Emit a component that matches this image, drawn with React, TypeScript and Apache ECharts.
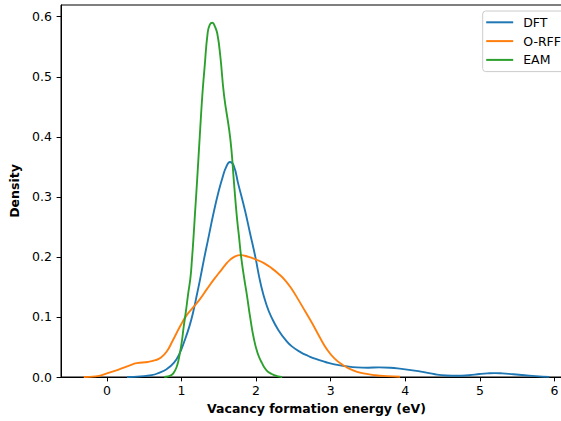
import React, { useEffect, useRef } from "react";
import * as echarts from "echarts";

const seriesNames = ["DFT", "O-RFF", "EAM"];
const seriesColors = ["#1f77b4", "#ff7f0e", "#2ca02c"];

const dftX = [0.27, 0.45, 0.6, 0.7, 0.8, 0.9, 0.97, 1.04, 1.11, 1.16, 1.21, 1.25, 1.3, 1.35, 1.43, 1.5, 1.55, 1.6, 1.65, 1.7, 1.76, 1.85, 1.92, 1.99, 2.06, 2.14, 2.22, 2.3, 2.4, 2.48, 2.6, 2.7, 2.8, 2.93, 3.05, 3.2, 3.35, 3.5, 3.65, 3.8, 3.95, 4.1, 4.25, 4.4, 4.55, 4.7, 4.85, 5.0, 5.1, 5.2, 5.3, 5.45, 5.6, 5.75, 5.93];
const dftY = [0, 0.001, 0.003, 0.007, 0.013, 0.024, 0.038, 0.06, 0.086, 0.11, 0.139, 0.163, 0.195, 0.225, 0.273, 0.31, 0.332, 0.35, 0.358, 0.352, 0.322, 0.278, 0.239, 0.2, 0.156, 0.12, 0.096, 0.078, 0.061, 0.051, 0.041, 0.035, 0.03, 0.025, 0.021, 0.018, 0.016, 0.0155, 0.016, 0.0155, 0.0135, 0.011, 0.008, 0.0045, 0.0025, 0.002, 0.003, 0.005, 0.006, 0.0065, 0.006, 0.0045, 0.003, 0.0015, 0.0003];

const orffX = [-0.31, -0.15, 0, 0.15, 0.3, 0.4, 0.55, 0.65, 0.72, 0.8, 0.88, 0.98, 1.07, 1.15, 1.25, 1.35, 1.45, 1.52, 1.59, 1.65, 1.72, 1.79, 1.9, 1.99, 2.1, 2.21, 2.3, 2.39, 2.48, 2.57, 2.66, 2.75, 2.85, 2.95, 3.05, 3.15, 3.3, 3.44, 3.6, 3.75, 3.93];
const orffY = [0, 0.001, 0.006, 0.012, 0.019, 0.023, 0.025, 0.028, 0.032, 0.042, 0.06, 0.084, 0.103, 0.115, 0.13, 0.148, 0.165, 0.176, 0.187, 0.195, 0.201, 0.203, 0.2, 0.196, 0.19, 0.181, 0.172, 0.161, 0.146, 0.128, 0.109, 0.09, 0.067, 0.046, 0.031, 0.021, 0.011, 0.006, 0.003, 0.0015, 0.0005];

const eamX = [0.77, 0.82, 0.86, 0.89, 0.93, 0.96, 1.0, 1.03, 1.06, 1.09, 1.12, 1.14, 1.16, 1.18, 1.21, 1.25, 1.28, 1.31, 1.35, 1.38, 1.415, 1.45, 1.48, 1.52, 1.57, 1.64, 1.67, 1.7, 1.74, 1.77, 1.8, 1.84, 1.88, 1.92, 1.965, 2.02, 2.08, 2.14, 2.21, 2.28, 2.35];
const eamY = [0, 0.001, 0.003, 0.006, 0.015, 0.028, 0.055, 0.084, 0.11, 0.139, 0.165, 0.195, 0.23, 0.27, 0.328, 0.411, 0.47, 0.516, 0.572, 0.587, 0.59, 0.583, 0.572, 0.535, 0.47, 0.411, 0.378, 0.33, 0.27, 0.235, 0.2, 0.165, 0.134, 0.1, 0.067, 0.04, 0.023, 0.011, 0.005, 0.0015, 0];

const xTicks = [0, 1, 2, 3, 4, 5, 6];
const yTicks = [0, 0.1, 0.2, 0.3, 0.4, 0.5, 0.6];

const xLabel = "Vacancy formation energy (eV)";
const yLabel = "Density";

const FONT = "DejaVu Sans";

function zip(xs: number[], ys: number[]) {
  return xs.map((x, i) => [x, ys[i]]);
}

export default function App() {
  const ref = useRef<HTMLDivElement>(null);
  useEffect(() => {
    if (!ref.current) return;
    const chart = echarts.init(ref.current, undefined, { renderer: "svg" });
    const datasets = [zip(dftX, dftY), zip(orffX, orffY), zip(eamX, eamY)];
    chart.setOption({
      animation: false,
      backgroundColor: "#ffffff",
      grid: {
        left: 61,
        top: 5,
        right: 0,
        bottom: 44,
        show: true,
        borderColor: "#000",
        borderWidth: 1,
        backgroundColor: "transparent",
      },
      legend: {
        orient: "vertical",
        left: 482.7,
        top: 11,
        data: seriesNames.map((n) => ({ name: n, icon: "rect" })),
        itemWidth: 27,
        itemHeight: 2,
        itemGap: 3.8,
        padding: [3.8, 5, 4.2, 3.5],
        backgroundColor: "rgba(255,255,255,0.8)",
        borderColor: "#cccccc",
        borderWidth: 1,
        borderRadius: 3,
        textStyle: {
          fontFamily: FONT,
          fontSize: 12.5,
          lineHeight: 15,
          color: "#000",
          padding: [0, 0, 0, 5],
        },
      },
      xAxis: {
        type: "value",
        min: -0.615,
        max: 6.235,
        name: xLabel,
        nameLocation: "middle",
        nameGap: 24.5,
        nameTextStyle: {
          fontFamily: FONT,
          fontSize: 12.5,
          fontWeight: "bold",
          color: "#000",
        },
        axisLine: { show: true, onZero: false, lineStyle: { color: "#000", width: 1 } },
        axisTick: { show: true, length: 4.4, customValues: xTicks, lineStyle: { color: "#000", width: 1 } },
        axisLabel: {
          customValues: xTicks,
          margin: 7,
          fontFamily: FONT,
          fontSize: 12.5,
          color: "#000",
          formatter: (v: number) => String(v),
        },
        splitLine: { show: false },
      },
      yAxis: {
        type: "value",
        min: 0,
        max: 0.6195,
        name: yLabel,
        nameLocation: "middle",
        nameGap: 29,
        nameRotate: 90,
        nameTextStyle: {
          fontFamily: FONT,
          fontSize: 12.5,
          fontWeight: "bold",
          color: "#000",
        },
        axisLine: { show: true, onZero: false, lineStyle: { color: "#000", width: 1 } },
        axisTick: { show: true, length: 4.4, customValues: yTicks, lineStyle: { color: "#000", width: 1 } },
        axisLabel: {
          customValues: yTicks,
          margin: 9,
          fontFamily: FONT,
          fontSize: 12.5,
          color: "#000",
          formatter: (v: number) => v.toFixed(1),
        },
        splitLine: { show: false },
      },
      series: seriesNames.map((name, i) => ({
        name,
        type: "line",
        data: datasets[i],
        showSymbol: false,
        symbol: "none",
        smooth: 0.5,
        color: seriesColors[i],
        lineStyle: { color: seriesColors[i], width: 1.875 },
        z: 2 + i,
      })),
    });
    return () => chart.dispose();
  }, []);
  return (
    <div
      style={{
        position: "absolute",
        left: 0,
        top: 0,
        width: 561,
        height: 421,
        overflow: "hidden",
        background: "#fff",
      }}
    >
      <div ref={ref} style={{ width: 572, height: 421 }} />
    </div>
  );
}
